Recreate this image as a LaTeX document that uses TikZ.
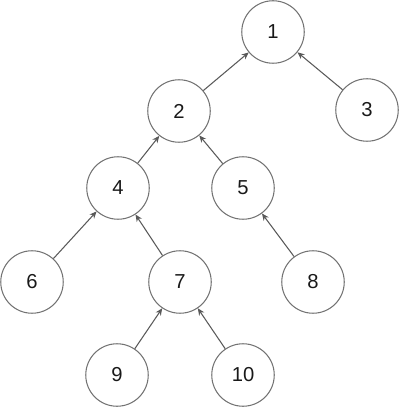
\documentclass[tikz,border=0pt]{standalone}
\usepackage{fontspec}
\setmainfont{Liberation Sans}
\usetikzlibrary{arrows.meta}
\begin{document}
\begin{tikzpicture}[x=0.02cm,y=-0.02cm,
  vert/.style={circle,draw=black!55,line width=0.6pt,minimum size=1.25cm,inner sep=0pt,font=\fontsize{11.5}{13}\selectfont,text=black!90},
  edge/.style={draw=black!65,line width=0.6pt,-{Stealth[length=4pt,width=3.5pt]}}]
\useasboundingbox (0,0) rectangle (400,408);
\node[vert] (n1) at (273,32) {1};
\node[vert] (n2) at (179,111) {2};
\node[vert] (n3) at (367,110) {3};
\node[vert] (n4) at (118,188) {4};
\node[vert] (n5) at (243,188) {5};
\node[vert] (n6) at (32,282) {6};
\node[vert] (n7) at (180,282) {7};
\node[vert] (n8) at (313,282) {8};
\node[vert] (n9) at (117,375) {9};
\node[vert] (n10) at (243,375) {10};
\draw[edge] (n2) -- (n1);
\draw[edge] (n3) -- (n1);
\draw[edge] (n4) -- (n2);
\draw[edge] (n5) -- (n2);
\draw[edge] (n6) -- (n4);
\draw[edge] (n7) -- (n4);
\draw[edge] (n8) -- (n5);
\draw[edge] (n9) -- (n7);
\draw[edge] (n10) -- (n7);
\end{tikzpicture}
\end{document}
